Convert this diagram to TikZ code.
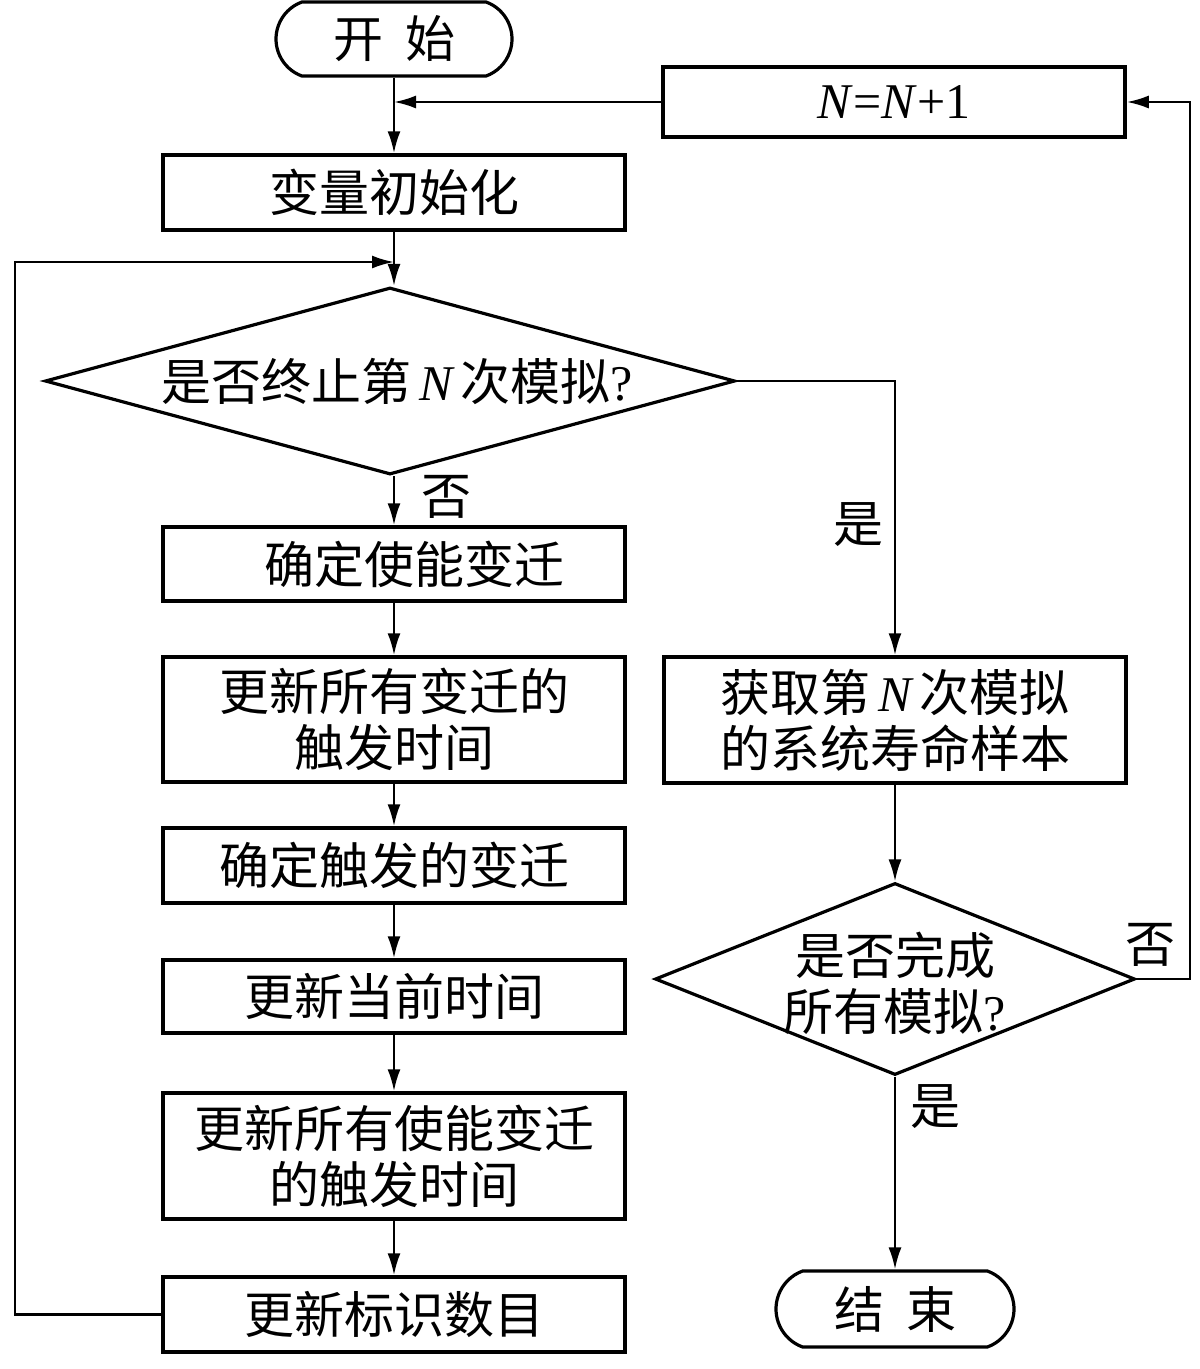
\documentclass[tikz,border=0pt]{standalone}
\usepackage{fontspec}
\setmainfont{Liberation Serif}
\newfontfamily\cjk{Noto Sans CJK SC}
\usetikzlibrary{shapes.geometric,shapes.misc,arrows.meta}
\newcommand\NN{{\normalfont\itshape N}}
\newcommand\qm{{\normalfont ?}}
\begin{document}
\begin{tikzpicture}[x=1pt,y=-1pt,
 every node/.style={font=\cjk\fontsize{50pt}{56pt}\selectfont},
 box/.style={draw,line width=3.5pt,minimum width=462pt,inner sep=0pt,align=center},
 term/.style={draw,line width=3.2pt,rounded rectangle,rounded rectangle arc length=140,minimum width=236pt,minimum height=74pt,inner sep=0pt},
 dia/.style={draw,line width=3.2pt,diamond,inner sep=0pt},
 conn/.style={line width=2.4pt},
 arr/.style={conn,-{Latex[length=22pt,width=13pt]}},
 lbl/.style={inner sep=0pt}]
\useasboundingbox (0,0) rectangle (1200,1369);

\node[term] (start) at (394,39) {开\hspace{22pt}始};
\node[box,minimum height=70pt] (nbox) at (894,102) {{\normalfont\textit{N}=\textit{N}+1}};
\node[box,minimum height=75pt] (init) at (394,192.5) {变量初始化};
\node[dia,minimum width=690pt,minimum height=187pt] (d1) at (390,381) {};
\node[lbl] (d1t) at (397,381) {是否终止第\hspace{8pt}\NN\hspace{8pt}次模拟\qm};
\node[box,minimum height=74pt] (b1) at (394,564) {\hspace*{40pt}确定使能变迁};
\node[box,minimum height=125pt] (b2) at (394,719.5) {更新所有变迁的\\触发时间};
\node[box,minimum height=75pt] (b3) at (394,865.5) {确定触发的变迁};
\node[box,minimum height=73pt] (b4) at (394,996.5) {更新当前时间};
\node[box,minimum height=126pt] (b5) at (394,1156) {更新所有使能变迁\\的触发时间};
\node[box,minimum height=75pt] (b6) at (394,1314.5) {更新标识数目};

\node[box,minimum height=126pt] (r1) at (895,720) {获取第\hspace{8pt}\NN\hspace{8pt}次模拟\\的系统寿命样本};
\node[dia,minimum width=480pt,minimum height=192pt] (d2) at (895,979) {};
\node[lbl,align=center] (d2t) at (895,983) {是否完成\\所有模拟\qm};
\node[term,minimum width=238pt,minimum height=76pt] (end) at (895,1309) {结\hspace{22pt}束};

\node[lbl] (l1) at (446,497) {否};
\node[lbl] (l2) at (858,525) {是};
\node[lbl] (l3) at (1150,945) {否};
\node[lbl] (l4) at (935,1107) {是};

\coordinate (lp) at (15,262);
\coordinate (rr) at (1190,102);

\draw[arr] (start.south) -- (init.north);
\draw[arr] (nbox.west) -- (nbox.west -| start.south);
\draw[arr] (init.south) -- (init.south |- d1.north);
\draw[arr] (b6.west) -| (lp) -- (lp -| init.south);
\draw[arr] (b1.north |- d1.south) -- (b1.north);
\draw[arr] (b1.south) -- (b2.north);
\draw[arr] (b2.south) -- (b3.north);
\draw[arr] (b3.south) -- (b4.north);
\draw[arr] (b4.south) -- (b5.north);
\draw[arr] (b5.south) -- (b6.north);
\draw[arr] (d1.east) -| (r1.north);
\draw[arr] (r1.south) -- (d2.north);
\draw[arr] (d2.east) -| (rr) -- (nbox.east);
\draw[arr] (d2.south) -- (end.north);
\end{tikzpicture}
\end{document}
